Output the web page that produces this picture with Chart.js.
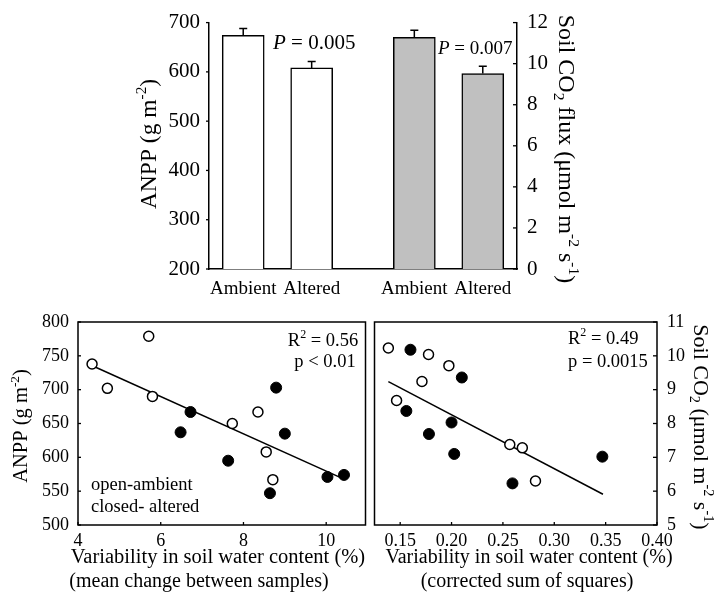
<!DOCTYPE html>
<html>
<head>
<meta charset="utf-8">
<script src="https://cdn.jsdelivr.net/npm/chart.js@4.4.1/dist/chart.umd.min.js"></script>
<style>
  html, body { margin: 0; padding: 0; background: #fff; }
  #page { position: relative; width: 714px; height: 599px; overflow: hidden; background: #fff; }
  canvas { position: absolute; }
</style>
</head>
<body>
<div id="page">
  <canvas id="barChart" width="714" height="300" style="left:0;top:0;width:714px;height:300px"></canvas>
  <canvas id="anppChart" width="372" height="299" style="left:0;top:300px;width:372px;height:299px"></canvas>
  <canvas id="fluxChart" width="346" height="299" style="left:368px;top:300px;width:346px;height:299px"></canvas>
</div>
<script>
// ---- top panel: treatment means with SE ----
const treatments = ['Ambient', 'Altered'];
const anppMean = [674, 608];
const anppSE = [14, 13];
const fluxMean = [11.28, 9.52];
const fluxSE = [0.35, 0.35];
// slots on the x axis (ANPP pair, gap, flux pair)
const anppSlots = [0, 2];
const fluxSlots = [5, 7];

// ---- bottom left: ANPP vs mean change between samples ----
const openChange = [4.34, 4.71, 5.71, 5.80, 7.73, 8.35, 8.55, 8.71];
const openAnpp = [738, 702, 779, 690, 650, 667, 608, 567];
const closedChange = [6.48, 6.72, 7.63, 8.64, 8.79, 9.00, 10.03, 10.43];
const closedAnpp = [637, 667, 595, 547, 703, 635, 571, 574];
const anppFitX = [4.32, 10.39];
const anppFitY = [736, 569];
const changeTicks = [4, 6, 8, 10];

// ---- bottom right: soil CO2 vs corrected sum of squares ----
const openSS = [0.1385, 0.1465, 0.1712, 0.1776, 0.1974, 0.2567, 0.2689, 0.2817];
const openFlux = [10.23, 8.68, 9.24, 10.04, 9.71, 7.38, 7.28, 6.30];
const closedSS = [0.156, 0.160, 0.178, 0.200, 0.2026, 0.210, 0.2593, 0.3468];
const closedFlux = [8.37, 10.18, 7.69, 8.03, 7.10, 9.36, 6.23, 7.02];
const fluxFitX = [0.1385, 0.3474];
const fluxFitY = [9.24, 5.91];
const ssTicks = [0.15, 0.20, 0.25, 0.30, 0.35, 0.40];

const SERIF = '"Liberation Serif", "Times New Roman", serif';
Chart.defaults.font.family = SERIF;
Chart.defaults.color = '#000';
Chart.defaults.animation = false;
Chart.defaults.plugins.legend.display = false;
Chart.defaults.plugins.tooltip.enabled = false;

const pts = (xs, ys) => xs.map((x, i) => ({x: x, y: ys[i]}));

// text with super/subscripts, drawn straight on the canvas
function richText(ctx, t) {
  ctx.save();
  ctx.translate(t.x, t.y);
  ctx.rotate(t.rot || 0);
  ctx.fillStyle = '#000';
  ctx.textBaseline = 'middle';
  ctx.textAlign = 'left';
  const fontFor = p => (p.i ? 'italic ' : '') + (p.v ? t.size * 0.65 : t.size) + 'px ' + SERIF;
  let total = 0;
  t.parts.forEach(p => { ctx.font = fontFor(p); p.w = ctx.measureText(p.t).width; total += p.w; });
  let cx = t.align === 'left' ? 0 : t.align === 'right' ? -total : -total / 2;
  t.parts.forEach(p => {
    ctx.font = fontFor(p);
    const dy = p.v === 'sup' ? -t.size * 0.33 : p.v === 'sub' ? t.size * 0.28 : 0;
    ctx.fillText(p.t, cx, dy);
    cx += p.w;
  });
  ctx.restore();
}

function textLayer(items) {
  return {
    id: 'textLayer',
    afterDraw(chart) { items.forEach(t => richText(chart.ctx, t)); }
  };
}

// small tick marks, len > 0 points right/down
function tickMarks(list) {
  return {
    id: 'tickMarks',
    afterDraw(chart) {
      const ctx = chart.ctx, area = chart.chartArea;
      ctx.save();
      ctx.strokeStyle = '#000';
      ctx.lineWidth = 1.3;
      list.forEach(m => {
        const s = chart.scales[m.id];
        s.ticks.forEach(t => {
          const p = s.getPixelForValue(t.value);
          ctx.beginPath();
          if (s.isHorizontal()) {
            ctx.moveTo(p, area.bottom); ctx.lineTo(p, area.bottom + m.len);
          } else {
            const x0 = s.position === 'left' ? area.left : area.right;
            ctx.moveTo(x0, p); ctx.lineTo(x0 + m.len, p);
          }
          ctx.stroke();
        });
      });
      ctx.restore();
    }
  };
}

const frame = {
  id: 'frame',
  afterDraw(chart) {
    const a = chart.chartArea, ctx = chart.ctx;
    ctx.save();
    ctx.strokeStyle = '#000';
    ctx.lineWidth = 1.5;
    ctx.strokeRect(a.left, a.top, a.right - a.left, a.bottom - a.top);
    ctx.restore();
  }
};

const errorBars = {
  id: 'errorBars',
  afterDatasetsDraw(chart) {
    const ctx = chart.ctx;
    ctx.save();
    ctx.strokeStyle = '#000';
    ctx.lineWidth = 1.5;
    chart.data.datasets.forEach((ds, di) => {
      const meta = chart.getDatasetMeta(di);
      const sc = chart.scales[ds.yAxisID];
      meta.data.forEach((bar, i) => {
        const top = sc.getPixelForValue(ds.data[i].y + ds.errors[i]);
        ctx.beginPath();
        ctx.moveTo(bar.x, bar.y);
        ctx.lineTo(bar.x, top);
        ctx.moveTo(bar.x - 4, top);
        ctx.lineTo(bar.x + 4, top);
        ctx.stroke();
      });
    });
    ctx.restore();
  }
};

const axisBorder = {display: true, color: '#000', width: 1.5};

// ----- top bar chart -----
new Chart(document.getElementById('barChart'), {
  type: 'bar',
  data: {
    datasets: [{
      label: 'ANPP',
      data: pts(anppSlots, anppMean),
      errors: anppSE,
      yAxisID: 'y',
      backgroundColor: '#ffffff',
      borderColor: '#000',
      borderWidth: 1.5
    }, {
      label: 'Soil CO2 flux',
      data: pts(fluxSlots, fluxMean),
      errors: fluxSE,
      yAxisID: 'y2',
      backgroundColor: '#c0c0c0',
      borderColor: '#000',
      borderWidth: 1.5
    }]
  },
  options: {
    responsive: false,
    devicePixelRatio: 1,
    layout: {padding: {top: 19, left: 0, right: 0, bottom: 0}},
    datasets: {bar: {grouped: false, barThickness: 42}},
    scales: {
      x: {
        type: 'linear',
        offset: false,
        min: -1, max: 8,
        grid: {display: false, drawTicks: false, offset: false},
        border: axisBorder,
        afterBuildTicks: s => { s.ticks = anppSlots.concat(fluxSlots).map(v => ({value: v})); },
        ticks: {
          font: {size: 19, lineHeight: 1},
          padding: 11,
          maxRotation: 0,
          callback: (v, i) => treatments[i % 2]
        },
        afterFit: s => { s.height = 31; }
      },
      y: {
        position: 'left',
        min: 200, max: 700,
        grid: {display: false, drawTicks: false},
        border: axisBorder,
        ticks: {stepSize: 100, font: {size: 21}, padding: 9},
        afterFit: s => { s.width = 209; }
      },
      y2: {
        position: 'right',
        min: 0, max: 12,
        grid: {display: false, drawTicks: false},
        border: axisBorder,
        ticks: {stepSize: 2, font: {size: 21}, padding: 10},
        afterFit: s => { s.width = 197; }
      }
    }
  },
  plugins: [errorBars, tickMarks([{id: 'y', len: -3}, {id: 'y2', len: -4}]), textLayer([
    {parts: [{t: 'ANPP (g m'}, {t: '-2', v: 'sup'}, {t: ')'}], x: 150, y: 144, size: 23.5, rot: -Math.PI / 2},
    {parts: [{t: 'Soil CO'}, {t: '2', v: 'sub'}, {t: ' flux (μmol m'}, {t: '-2', v: 'sup'}, {t: ' s'}, {t: '-1', v: 'sup'}, {t: ')'}],
      x: 565, y: 149, size: 24, rot: Math.PI / 2},
    {parts: [{t: 'P', i: true}, {t: ' = 0.005'}], x: 273, y: 43, size: 21, align: 'left'},
    {parts: [{t: 'P', i: true}, {t: ' = 0.007'}], x: 438, y: 49, size: 19, align: 'left'}
  ])]
});

// ----- bottom left scatter -----
const openStyle = {pointRadius: 5, pointBackgroundColor: '#fff', pointBorderColor: '#000', pointBorderWidth: 1.5, showLine: false};
const closedStyle = {pointRadius: 5.5, pointBackgroundColor: '#000', pointBorderColor: '#000', pointBorderWidth: 1, showLine: false};
const fitStyle = {type: 'line', borderColor: '#000', borderWidth: 1.5, pointRadius: 0, showLine: true, fill: false};

new Chart(document.getElementById('anppChart'), {
  type: 'scatter',
  data: {
    datasets: [
      Object.assign({label: 'open-ambient', data: pts(openChange, openAnpp)}, openStyle),
      Object.assign({label: 'closed-altered', data: pts(closedChange, closedAnpp)}, closedStyle),
      Object.assign({label: 'fit', data: pts(anppFitX, anppFitY)}, fitStyle)
    ]
  },
  options: {
    responsive: false,
    devicePixelRatio: 1,
    layout: {padding: {top: 22, right: 2, left: 0, bottom: 0}},
    scales: {
      x: {
        type: 'linear',
        min: 4, max: 10.95,
        grid: {display: false, drawTicks: false},
        border: {display: false},
        afterBuildTicks: s => { s.ticks = changeTicks.map(v => ({value: v})); },
        ticks: {font: {size: 18, lineHeight: 1}, padding: 7, maxRotation: 0},
        afterFit: s => { s.height = 74; }
      },
      y: {
        min: 500, max: 800,
        grid: {display: false, drawTicks: false},
        border: {display: false},
        ticks: {stepSize: 50, font: {size: 18}, padding: 9},
        afterFit: s => { s.width = 78; }
      }
    }
  },
  plugins: [frame, tickMarks([{id: 'x', len: -3}, {id: 'y', len: 3}]), textLayer([
    {parts: [{t: 'ANPP (g m'}, {t: '-2', v: 'sup'}, {t: ')'}], x: 22, y: 126, size: 20.5, rot: -Math.PI / 2},
    {parts: [{t: 'Variability in soil water content (%)'}], x: 218, y: 258, size: 20.5},
    {parts: [{t: '(mean change between samples)'}], x: 199, y: 282, size: 20},
    {parts: [{t: 'R'}, {t: '2', v: 'sup'}, {t: ' = 0.56'}], x: 323, y: 41, size: 18.5},
    {parts: [{t: 'p < 0.01'}], x: 325, y: 62, size: 18.5},
    {parts: [{t: 'open-ambient'}], x: 91, y: 185, size: 18.5, align: 'left'},
    {parts: [{t: 'closed- altered'}], x: 91, y: 207, size: 18.5, align: 'left'}
  ])]
});

// ----- bottom right scatter -----
new Chart(document.getElementById('fluxChart'), {
  type: 'scatter',
  data: {
    datasets: [
      Object.assign({label: 'open-ambient', data: pts(openSS, openFlux)}, openStyle),
      Object.assign({label: 'closed-altered', data: pts(closedSS, closedFlux)}, closedStyle),
      Object.assign({label: 'fit', data: pts(fluxFitX, fluxFitY)}, fitStyle)
    ]
  },
  options: {
    responsive: false,
    devicePixelRatio: 1,
    layout: {padding: {top: 22, left: 2, right: 0, bottom: 0}},
    scales: {
      x: {
        type: 'linear',
        min: 0.125, max: 0.40,
        grid: {display: false, drawTicks: false},
        border: {display: false},
        afterBuildTicks: s => { s.ticks = ssTicks.map(v => ({value: v})); },
        ticks: {font: {size: 18, lineHeight: 1}, padding: 7, maxRotation: 0, callback: v => v.toFixed(2)},
        afterFit: s => { s.height = 74; }
      },
      y: {
        position: 'right',
        min: 5, max: 11,
        grid: {display: false, drawTicks: false},
        border: {display: false},
        ticks: {stepSize: 1, font: {size: 18}, padding: 10},
        afterFit: s => { s.width = 57; }
      }
    }
  },
  plugins: [frame, tickMarks([{id: 'x', len: -3}, {id: 'y', len: -4}]), textLayer([
    {parts: [{t: 'Soil CO'}, {t: '2', v: 'sub'}, {t: ' (μmol m'}, {t: '-2', v: 'sup'}, {t: ' s'}, {t: '-1', v: 'sup'}, {t: ')'}],
      x: 332, y: 127, size: 22, rot: Math.PI / 2},
    {parts: [{t: 'Variability in soil water content (%)'}], x: 161, y: 258, size: 20},
    {parts: [{t: '(corrected sum of squares)'}], x: 159, y: 282, size: 20},
    {parts: [{t: 'R'}, {t: '2', v: 'sup'}, {t: ' = 0.49'}], x: 200, y: 39, size: 18.5, align: 'left'},
    {parts: [{t: 'p = 0.0015'}], x: 200, y: 62, size: 18.5, align: 'left'}
  ])]
});
</script>
</body>
</html>
